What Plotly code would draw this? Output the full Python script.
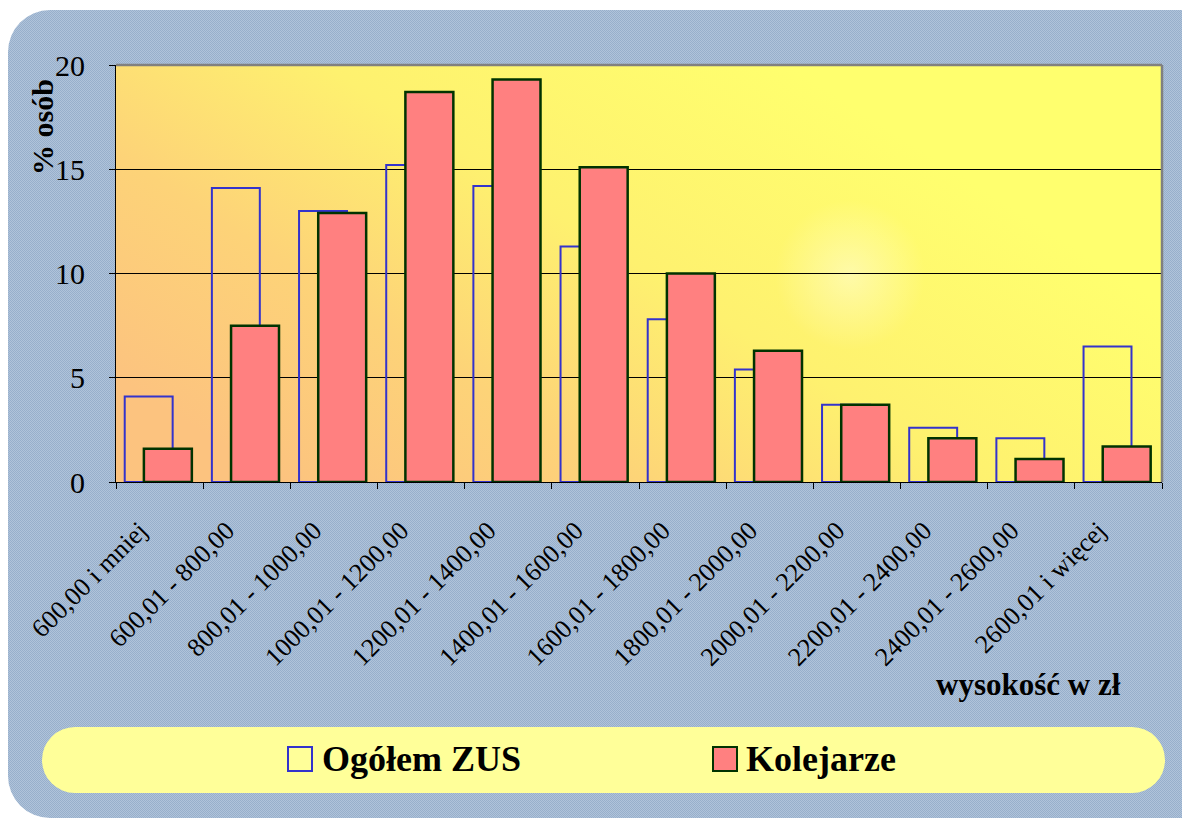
import base64
import plotly.graph_objects as go

# przedziały wysokości świadczenia
categories = ["600,00 i mniej", "600,01 - 800,00", "800,01 - 1000,00",
              "1000,01 - 1200,00", "1200,01 - 1400,00", "1400,01 - 1600,00",
              "1600,01 - 1800,00", "1800,01 - 2000,00", "2000,01 - 2200,00",
              "2200,01 - 2400,00", "2400,01 - 2600,00", "2600,01 i więcej"]
ogolem_zus = [4.1, 14.1, 13.0, 15.2, 14.2, 11.3, 7.8, 5.4, 3.7, 2.6, 2.1, 6.5]
kolejarze = [1.6, 7.5, 12.9, 18.7, 19.3, 15.1, 10.0, 6.3, 3.7, 2.1, 1.1, 1.7]
y_ticks = [0, 5, 10, 15, 20]

W, H = 1190, 820
SHIFT = 8  # page body margin, the figure is drawn 8px right/down
L, R, T, B = 116, 1162, 65, 482  # plot area in screen pixels
FONT = "Liberation Serif"


def px(x):
    return (x - L) / (R - L)


def py(y):
    return (B - y) / (B - T)


# background: textured rounded panel, gradient plot area, legend pill
svg = f"""<svg xmlns='http://www.w3.org/2000/svg' width='{W}' height='{H}' viewBox='0 0 {W} {H}'>
<defs>
<pattern id='p' width='2' height='2' patternUnits='userSpaceOnUse'>
<rect width='2' height='2' fill='#b0c3da'/>
<rect width='1' height='1' fill='#97afcb'/>
<rect x='1' y='1' width='1' height='1' fill='#97afcb'/>
</pattern>
<linearGradient id='g' x1='0' y1='0.75' x2='0.8' y2='0.25'>
<stop offset='0' stop-color='#fcc37f'/>
<stop offset='0.3' stop-color='#fdd378'/>
<stop offset='0.6' stop-color='#fef16f'/>
<stop offset='1' stop-color='#ffff6e'/>
</linearGradient>
<radialGradient id='h' cx='850' cy='275' r='75' gradientUnits='userSpaceOnUse'>
<stop offset='0' stop-color='#ffffff' stop-opacity='0.4'/>
<stop offset='1' stop-color='#ffffff' stop-opacity='0'/>
</radialGradient>
</defs>
<rect x='8' y='10' width='1220' height='808' rx='42' fill='url(#p)'/>
<rect x='{L}' y='{T}' width='{R - L}' height='{B - T}' fill='url(#g)'/>
<rect x='{L}' y='{T}' width='{R - L}' height='{B - T}' fill='url(#h)'/>
<rect x='42' y='727' width='1123' height='66' rx='33' fill='#ffff99'/>
</svg>"""
bg_uri = "data:image/svg+xml;base64," + base64.b64encode(svg.encode("utf-8")).decode()

fig = go.Figure()
fig.add_trace(go.Bar(
    x=categories, y=ogolem_zus, name="Ogółem ZUS",
    width=0.55, offset=-0.4,
    marker=dict(color="rgba(0,0,0,0)", line=dict(color="#3333cc", width=2)),
    showlegend=False,
))
fig.add_trace(go.Bar(
    x=categories, y=kolejarze, name="Kolejarze",
    width=0.55, offset=-0.18,
    marker=dict(color="#ff8080", line=dict(color="#003300", width=2.5)),
    showlegend=False,
))

fig.update_layout(
    width=W, height=H, autosize=False,
    margin=dict(l=L - SHIFT, r=W - R + SHIFT, t=T - SHIFT, b=H - B + SHIFT, pad=0),
    paper_bgcolor="white",
    plot_bgcolor="rgba(0,0,0,0)",
    barmode="overlay",
    font=dict(family=FONT, color="black"),
    images=[dict(
        source=bg_uri, xref="paper", yref="paper",
        x=px(0), y=py(0), sizex=W / (R - L), sizey=H / (B - T),
        xanchor="left", yanchor="top", sizing="stretch", layer="below",
    )],
    xaxis=dict(
        type="category", range=[-0.5, len(categories) - 0.5],
        showline=True, linecolor="black", linewidth=1,
        ticks="outside", tickson="boundaries", ticklen=6, tickcolor="black",
        tickangle=-45, tickfont=dict(family=FONT, size=26),
        ticklabelstandoff=22, ticklabelshift=-20,
        showgrid=False, zeroline=False,
    ),
    yaxis=dict(
        range=[0, 20], tickvals=y_ticks,
        showline=True, linecolor="black", linewidth=1,
        ticks="outside", ticklen=6, tickcolor="black",
        tickfont=dict(family=FONT, size=30), ticklabelstandoff=18,
        showgrid=True, gridcolor="black", gridwidth=1, zeroline=False,
    ),
    shapes=[
        # grey frame on top and right
        dict(type="line", xref="paper", yref="paper", x0=0, x1=1, y0=1, y1=1,
             line=dict(color="#808080", width=2.5)),
        dict(type="line", xref="paper", yref="paper", x0=1, x1=1, y0=0, y1=1,
             line=dict(color="#808080", width=2.5)),
        # legend keys
        dict(type="rect", xref="paper", yref="paper",
             x0=px(288), x1=px(312), y0=py(771), y1=py(747),
             fillcolor="rgba(0,0,0,0)", line=dict(color="#3333cc", width=2)),
        dict(type="rect", xref="paper", yref="paper",
             x0=px(713), x1=px(737), y0=py(771), y1=py(747),
             fillcolor="#ff8080", line=dict(color="#003300", width=2)),
    ],
    annotations=[
        dict(text="<b>% osób</b>", xref="paper", yref="paper",
             x=px(43), y=py(127), xanchor="center", yanchor="middle",
             textangle=-90, showarrow=False,
             font=dict(family=FONT, size=30)),
        dict(text="<b>wysokość w zł</b>", xref="paper", yref="paper",
             x=px(1028), y=py(684), xanchor="center", yanchor="middle",
             showarrow=False, font=dict(family=FONT, size=31)),
        dict(text="<b>Ogółem ZUS</b>", xref="paper", yref="paper",
             x=px(320), y=py(759), xanchor="left", yanchor="middle",
             showarrow=False, font=dict(family=FONT, size=36)),
        dict(text="<b>Kolejarze</b>", xref="paper", yref="paper",
             x=px(744), y=py(759), xanchor="left", yanchor="middle",
             showarrow=False, font=dict(family=FONT, size=36)),
    ],
)

fig.write_html("out.html")
